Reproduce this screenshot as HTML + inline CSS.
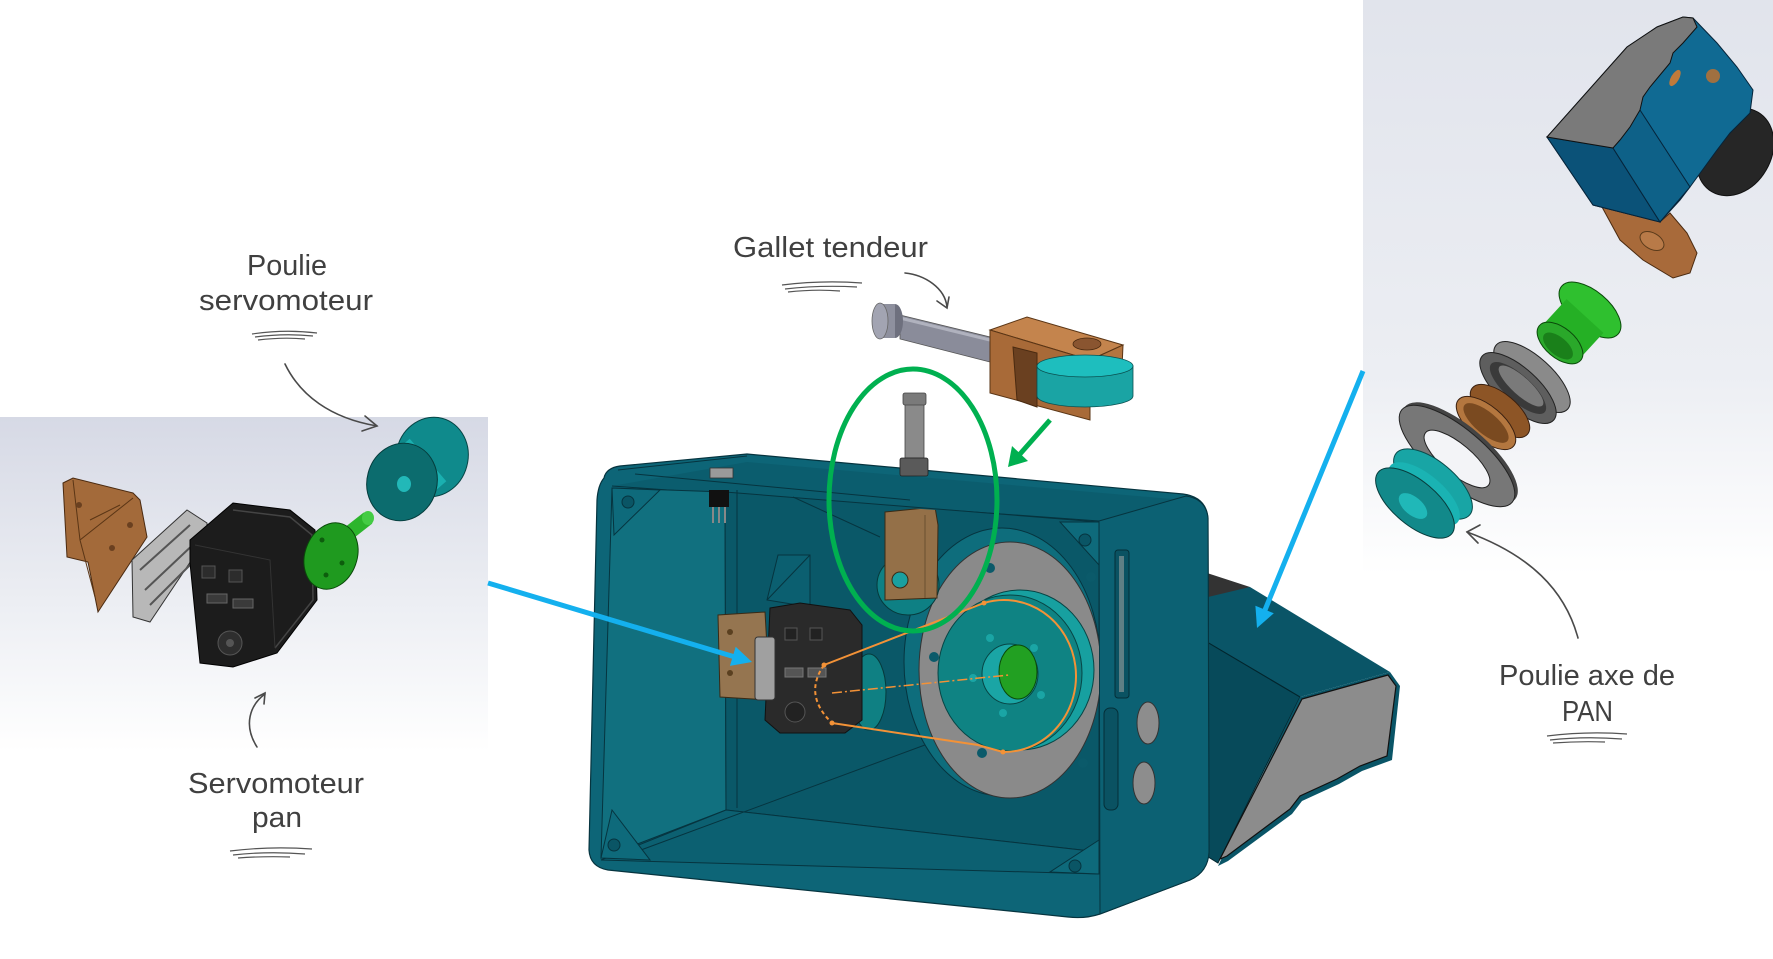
<!DOCTYPE html>
<html><head><meta charset="utf-8"><style>
html,body{margin:0;padding:0;background:#fff;overflow:hidden;}
svg{display:block;}
text{font-family:"Liberation Sans",sans-serif;fill:#404040;font-size:29px;}
</style></head><body>
<svg width="1773" height="959" viewBox="0 0 1773 959" xmlns="http://www.w3.org/2000/svg">
<defs>
<linearGradient id="gl" x1="0" y1="0" x2="0" y2="1">
<stop offset="0" stop-color="#d6d9e5"/><stop offset="0.55" stop-color="#eceef3"/><stop offset="1" stop-color="#ffffff"/>
</linearGradient>
<linearGradient id="gr" x1="0" y1="0" x2="0" y2="1">
<stop offset="0" stop-color="#e1e4ec"/><stop offset="0.65" stop-color="#eceef3"/><stop offset="1" stop-color="#ffffff"/>
</linearGradient>
<clipPath id="open"><path d="M612,488 L1099,521 L1099,874 L601,860 Z"/></clipPath>
</defs>
<rect width="1773" height="959" fill="#fff"/>
<!-- panels -->
<rect x="0" y="417" width="488" height="335" fill="url(#gl)"/>
<rect x="1363" y="0" width="410" height="575" fill="url(#gr)"/>

<!-- ============ LEFT EXPLODED SERVO ============ -->
<path d="M63,483 L73,478 L133,493 L140,500 L147,537 L98,612 L95,597 L88,562 L67,557 Z" fill="#a36a3a" stroke="#4a2a10" stroke-width="1"/>
<path d="M73,480 L80,540 L95,597 M80,540 L133,498 M90,520 L120,505" fill="none" stroke="#5a3515" stroke-width="1"/>
<circle cx="79" cy="505" r="3" fill="#6a4020"/><circle cx="112" cy="548" r="3" fill="#6a4020"/><circle cx="130" cy="525" r="3" fill="#6a4020"/>
<path d="M132,560 L187,510 L207,523 L207,537 L150,622 L133,617 Z" fill="#b8b8b8" stroke="#333" stroke-width="1"/>
<path d="M140,570 L190,525 M145,590 L198,540 M150,605 L200,555" stroke="#555" stroke-width="2" fill="none"/>
<path d="M190,540 L233,503 L290,510 L315,530 L317,600 L277,653 L233,667 L200,663 L190,563 Z" fill="#1c1c1c" stroke="#000" stroke-width="1"/>
<path d="M233,510 L290,517 L312,535 L313,600 L275,648" fill="none" stroke="#444" stroke-width="1.5"/>
<path d="M195,545 L270,560 L275,648" fill="none" stroke="#333" stroke-width="1"/>
<rect x="202" y="566" width="13" height="12" fill="#2c2c2c" stroke="#555"/>
<rect x="229" y="570" width="13" height="12" fill="#2c2c2c" stroke="#555"/>
<rect x="207" y="594" width="20" height="9" fill="#3a3a3a" stroke="#666"/>
<rect x="233" y="599" width="20" height="9" fill="#3a3a3a" stroke="#666"/>
<circle cx="230" cy="643" r="12" fill="#2e2e2e" stroke="#555"/><circle cx="230" cy="643" r="4" fill="#555"/>
<line x1="340" y1="540" x2="368" y2="518" stroke="#2cb52c" stroke-width="14"/>
<ellipse cx="368" cy="518" rx="6" ry="7" fill="#44cc44"/>
<ellipse cx="331" cy="556" rx="26" ry="34" transform="rotate(20 331 556)" fill="#1f9a1f" stroke="#0a4a0a"/>
<circle cx="322" cy="540" r="2.5" fill="#0d5d0d"/><circle cx="342" cy="563" r="2.5" fill="#0d5d0d"/><circle cx="326" cy="575" r="2.5" fill="#0d5d0d"/>
<ellipse cx="432" cy="457" rx="36" ry="40" transform="rotate(15 432 457)" fill="#0f8a8c" stroke="#064545"/>
<line x1="406" y1="479" x2="428" y2="460" stroke="#1ab0b0" stroke-width="56"/>
<ellipse cx="402" cy="482" rx="35" ry="39" transform="rotate(15 402 482)" fill="#0c6c6e" stroke="#053c3c"/>
<ellipse cx="404" cy="484" rx="7" ry="8" fill="#22b8b8"/>

<!-- ============ GALLET TENDEUR ============ -->
<path d="M900,315 L990,337 L990,362 L900,339 Z" fill="#8a8c9a" stroke="#555" stroke-width="0.8"/>
<path d="M900,318 L990,340" stroke="#b0b2be" stroke-width="3"/>
<ellipse cx="895" cy="321" rx="8" ry="17" fill="#6e707e"/>
<path d="M880,304 L895,304 L895,338 L880,338 Z" fill="#8e909e"/>
<ellipse cx="880" cy="321" rx="8" ry="18" fill="#a2a4b2" stroke="#666" stroke-width="0.8"/>
<path d="M990,330 L1027,317 L1123,345 L1090,360 Z" fill="#c4844d" stroke="#5a3515" stroke-width="1"/>
<path d="M990,330 L1090,360 L1090,420 L990,393 Z" fill="#a86a38" stroke="#5a3515" stroke-width="1"/>
<path d="M1090,360 L1123,345 L1122,368 L1092,372 Z" fill="#b47540" stroke="#5a3515" stroke-width="1"/>
<path d="M1013,347 L1037,353 L1037,407 L1017,400 Z" fill="#6a4020" stroke="#4a2a10"/>
<ellipse cx="1087" cy="344" rx="14" ry="6" fill="#8a5530" stroke="#4a2a10" stroke-width="0.8"/>
<path d="M1037,366 L1037,396 A48,11 0 0 0 1133,396 L1133,366 Z" fill="#1aa4a4" stroke="#0a5050" stroke-width="0.8"/>
<ellipse cx="1085" cy="366" rx="48" ry="11" fill="#1ebebe" stroke="#0a5050" stroke-width="0.8"/>

<!-- ============ RIGHT CAMERA HOUSING (behind box) ============ -->
<path d="M1207,573 L1250,587 L1250,600 L1207,600 Z" fill="#333"/>
<path d="M1208,597 L1250,587 L1390,672 L1300,697 L1207,642 Z" fill="#0a5567"/>
<path d="M1207,642 L1300,697 L1218,863 L1197,850 Z" fill="#074a5a" stroke="#03262e" stroke-width="1"/>
<path d="M1300,697 L1390,672 L1400,686 L1392,760 L1362,771 L1339,784 L1302,801 L1292,814 L1228,861 L1218,866 Z" fill="#0a5567"/>
<path d="M1302,699 L1388,675 L1396,686 L1387,756 L1360,766 L1337,779 L1300,796 L1290,809 L1227,856 L1220,859 Z" fill="#8c8c8c" stroke="#111" stroke-width="1.2"/>
<path d="M1300,697 L1207,642" stroke="#03262e" stroke-width="1"/>

<!-- ============ MAIN BOX ============ -->
<path d="M604,478 Q606,468 620,466 L747,454 L1183,494 Q1206,497 1208,518 L1209,852 Q1208,872 1190,880 L1100,914 Q1085,919 1068,917 L608,870 Q590,867 589,850 L597,500 Q598,485 604,478 Z" fill="#0d6577" stroke="#06343f" stroke-width="1.2"/>
<path d="M612,486 L747,462 L1183,500 L1099,521 Z" fill="#0b5d6e"/>
<path d="M618,470 L747,456 M612,486 L1099,521 M635,474 L910,500" fill="none" stroke="#06343f" stroke-width="1"/>
<path d="M612,488 L725,492 L726,810 L601,858 Z" fill="#11707f" stroke="#06343f" stroke-width="1"/>
<path d="M725,492 L1099,522 L1099,852 L726,810 Z" fill="#0a5868" stroke="#06343f" stroke-width="1"/>
<path d="M726,810 L1099,852 L1099,874 L601,860 Z" fill="#0c6071" stroke="#06343f" stroke-width="1"/>
<path d="M622,857 L933,742 M737,490 L737,808 M793,497 L880,537" stroke="#06343f" stroke-width="1" fill="none"/>
<path d="M1099,521 L1186,496 Q1206,499 1208,518 L1209,852 Q1208,872 1190,880 L1100,914 Z" fill="#0c6173" stroke="#06343f" stroke-width="1"/>
<path d="M612,488 L660,490 L614,535 Z" fill="#0e6a7b" stroke="#06343f"/><circle cx="628" cy="502" r="6" fill="#0a5565" stroke="#06343f"/>
<path d="M601,858 L612,810 L650,860 Z" fill="#0e6a7b" stroke="#06343f"/><circle cx="614" cy="845" r="6" fill="#0a5565" stroke="#06343f"/>
<path d="M1099,522 L1060,522 L1099,565 Z" fill="#0e6a7b" stroke="#06343f"/><circle cx="1085" cy="540" r="6" fill="#0a5565" stroke="#06343f"/>
<path d="M1099,874 L1050,872 L1099,840 Z" fill="#0e6a7b" stroke="#06343f"/><circle cx="1075" cy="866" r="6" fill="#0a5565" stroke="#06343f"/>
<rect x="1115" y="550" width="14" height="148" rx="3" fill="#0a5262" stroke="#042f38"/>
<rect x="1119" y="556" width="5" height="136" fill="#5f7f85"/>
<rect x="1104" y="708" width="14" height="102" rx="6" fill="#0a5262" stroke="#042f38"/>
<ellipse cx="1148" cy="723" rx="11" ry="21" fill="#8d8d8d" stroke="#333"/>
<ellipse cx="1144" cy="783" rx="11" ry="21" fill="#8d8d8d" stroke="#333"/>
<rect x="710" y="468" width="23" height="10" fill="#9a9a9a" stroke="#333" stroke-width="0.8"/>
<rect x="709" y="490" width="20" height="17" fill="#111"/>
<path d="M713,507 L713,523 M719,507 L719,523 M725,507 L725,523" stroke="#888" stroke-width="2"/>
<rect x="905" y="398" width="19" height="60" fill="#8a8a8a" stroke="#444" stroke-width="0.8"/>
<rect x="903" y="393" width="23" height="12" rx="2" fill="#7a7a7a" stroke="#444" stroke-width="0.8"/>
<rect x="900" y="458" width="28" height="18" rx="2" fill="#5a5a5a" stroke="#222" stroke-width="0.8"/>

<g clip-path="url(#open)">
<path d="M778,555 L810,555 L810,607 L767,600 Z" fill="#0b5f70" stroke="#06343f"/>
<path d="M767,600 L810,555" stroke="#06343f" stroke-width="1"/>
<ellipse cx="1002" cy="662" rx="98" ry="134" fill="#0e6d7c" stroke="#06343f"/>
<ellipse cx="1010" cy="670" rx="91" ry="128" fill="#8a8a8a" stroke="#333" stroke-width="1"/>
<circle cx="990" cy="568" r="5" fill="#0b5a6a"/><circle cx="1091" cy="577" r="5" fill="#0b5a6a"/>
<circle cx="934" cy="657" r="5" fill="#0b5a6a"/><circle cx="982" cy="753" r="5" fill="#0b5a6a"/><circle cx="1083" cy="763" r="5" fill="#0b5a6a"/>
<ellipse cx="1020" cy="670" rx="74" ry="80" fill="#17a0a0" stroke="#074545"/>
<ellipse cx="1010" cy="673" rx="72" ry="78" fill="#0f8383" stroke="#074545"/>
<ellipse cx="1010" cy="674" rx="28" ry="30" fill="#1aa5a5" stroke="#074545"/>
<ellipse cx="1018" cy="672" rx="19" ry="27" fill="#22a022" stroke="#0a4a0a"/>
<circle cx="990" cy="638" r="4" fill="#1aa5a5"/><circle cx="1034" cy="648" r="4" fill="#1aa5a5"/>
<circle cx="973" cy="678" r="4" fill="#1aa5a5"/><circle cx="1041" cy="695" r="4" fill="#1aa5a5"/><circle cx="1003" cy="713" r="4" fill="#1aa5a5"/>
<ellipse cx="908" cy="585" rx="31" ry="30" fill="#0e8084" stroke="#063a3c"/>
<path d="M885,512 L935,507 L938,525 L937,598 L885,600 Z" fill="#947048" stroke="#3a2a15"/>
<path d="M925,515 L925,598" stroke="#6a5030" stroke-width="1"/>
<circle cx="900" cy="580" r="8" fill="#1aa0a0" stroke="#3a2a15"/>
<ellipse cx="869" cy="692" rx="17" ry="38" fill="#0f8083" stroke="#063a3c"/>
<path d="M718,615 L765,612 L770,700 L720,697 Z" fill="#957550" stroke="#3a2a15"/>
<circle cx="730" cy="632" r="3" fill="#5a4020"/><circle cx="730" cy="673" r="3" fill="#5a4020"/>
<path d="M770,608 L800,603 L850,610 L862,625 L862,720 L845,733 L780,733 L765,720 Z" fill="#2a2a2a" stroke="#111"/>
<rect x="755" y="637" width="20" height="63" rx="3" fill="#a0a0a0" stroke="#333"/>
<rect x="785" y="628" width="12" height="12" fill="#222" stroke="#555"/><rect x="810" y="628" width="12" height="12" fill="#222" stroke="#555"/>
<rect x="785" y="668" width="18" height="9" fill="#555" stroke="#777"/><rect x="808" y="668" width="18" height="9" fill="#555" stroke="#777"/>
<circle cx="795" cy="712" r="10" fill="#222" stroke="#555"/>
<g stroke="#f39237" stroke-width="2" fill="none">
<path d="M824,665 L984,603"/>
<path d="M984,603 A72,76 0 1 1 1003,752"/>
<path d="M832,723 L978,745 L1003,752"/>
<path d="M824,665 Q803,695 832,723" stroke-dasharray="4 3"/>
<path d="M832,693 L1009,675" stroke-dasharray="10 3 2 3" stroke-width="1.5"/>
</g>
<g fill="#f39237"><circle cx="824" cy="665" r="2.5"/><circle cx="984" cy="603" r="2.5"/><circle cx="832" cy="723" r="2.5"/><circle cx="1003" cy="752" r="2.5"/></g>
</g>

<!-- ============ RIGHT PANEL PARTS ============ -->
<path d="M1602,207 L1660,222 L1670,213 L1687,233 L1697,253 L1690,273 L1673,278 L1643,260 L1620,240 Z" fill="#a86a3a" stroke="#4a2a10"/>
<ellipse cx="1652" cy="241" rx="13" ry="8" transform="rotate(30 1652 241)" fill="#b87a48" stroke="#5a3a1a"/>
<ellipse cx="1735" cy="152" rx="36" ry="46" transform="rotate(30 1735 152)" fill="#262626" stroke="#111"/>
<path d="M1693,18 L1717,43 L1737,67 L1753,90 L1750,113 L1730,133 L1717,150 L1690,187 L1680,200 L1660,222 L1593,205 L1547,137 L1627,47 L1657,27 L1683,17 Z" fill="#106a93" stroke="#06243a" stroke-width="1"/>
<path d="M1547,137 L1613,148 L1660,222 L1593,205 Z" fill="#0b5278" stroke="#06243a"/>
<path d="M1613,148 L1640,110 L1690,187 L1660,222 Z" fill="#0e6188" stroke="#06243a"/>
<path d="M1547,137 L1627,47 L1657,27 L1683,17 L1693,18 L1697,27 L1683,43 L1673,53 L1670,63 L1650,87 L1643,97 L1640,110 L1630,127 L1620,140 L1613,148 Z" fill="#7a7a7a" stroke="#111" stroke-width="1"/>
<ellipse cx="1675" cy="78" rx="4" ry="9" transform="rotate(30 1675 78)" fill="#c07a3a"/>
<circle cx="1713" cy="76" r="7" fill="#a07040"/>
<!-- green bushing -->
<ellipse cx="1590" cy="310" rx="37" ry="19" transform="rotate(40 1590 310)" fill="#2fc02f" stroke="#0a4a0a"/>
<line x1="1562" y1="341" x2="1585" y2="316" stroke="#25b025" stroke-width="50"/>
<ellipse cx="1560" cy="343" rx="27" ry="15" transform="rotate(40 1560 343)" fill="#2aa82a" stroke="#0a4a0a"/>
<ellipse cx="1558" cy="346" rx="18" ry="9" transform="rotate(40 1558 346)" fill="#1a801a"/>
<!-- bearing -->
<ellipse cx="1532" cy="377" rx="48" ry="20" transform="rotate(42 1532 377)" fill="#8a8a8a" stroke="#222"/>
<ellipse cx="1518" cy="388" rx="48" ry="20" transform="rotate(42 1518 388)" fill="#5e5e5e" stroke="#222"/>
<ellipse cx="1518" cy="388" rx="36" ry="13" transform="rotate(42 1518 388)" fill="#3a3a3a"/>
<ellipse cx="1521" cy="386" rx="29" ry="9" transform="rotate(42 1521 386)" fill="#7a7a7a"/>
<!-- brown ring -->
<ellipse cx="1500" cy="411" rx="36" ry="17" transform="rotate(40 1500 411)" fill="#8d5526" stroke="#3a2010"/>
<ellipse cx="1486" cy="423" rx="36" ry="17" transform="rotate(40 1486 423)" fill="#b4773f" stroke="#3a2010"/>
<ellipse cx="1486" cy="423" rx="28" ry="11" transform="rotate(40 1486 423)" fill="#7a4a20"/>
<!-- washer -->
<ellipse cx="1460" cy="453" rx="72" ry="27" transform="rotate(40 1460 453)" fill="#444"/>
<ellipse cx="1457" cy="456" rx="72" ry="27" transform="rotate(40 1457 456)" fill="#777" stroke="#222"/>
<ellipse cx="1457" cy="459" rx="41" ry="15" transform="rotate(40 1457 459)" fill="#f3f4f7" stroke="#222"/>
<!-- teal pulley -->
<ellipse cx="1433" cy="484" rx="48" ry="22" transform="rotate(40 1433 484)" fill="#18a5a5" stroke="#0a4a4a"/>
<ellipse cx="1424" cy="494" rx="44" ry="19" transform="rotate(40 1424 494)" fill="#1ab3b3"/>
<ellipse cx="1415" cy="503" rx="48" ry="22" transform="rotate(40 1415 503)" fill="#12898a" stroke="#083c3c"/>
<ellipse cx="1413" cy="506" rx="17" ry="9" transform="rotate(40 1413 506)" fill="#20b8b8"/>

<!-- ============ ARROWS ============ -->
<g stroke="#14b0ee" stroke-width="5" fill="none">
<line x1="488" y1="583" x2="735" y2="657"/>
<line x1="1363" y1="371" x2="1265" y2="610"/>
</g>
<polygon points="752,662 729.9,665.9 735.7,646.7" fill="#14b0ee"/>
<polygon points="1257,628 1273.8,613.3 1255.4,605.7" fill="#14b0ee"/>
<ellipse cx="913" cy="500" rx="84" ry="131" fill="none" stroke="#00b050" stroke-width="5"/>
<line x1="1050" y1="420" x2="1020" y2="454" stroke="#00b050" stroke-width="5"/>
<polygon points="1008,467 1028,461 1012,446" fill="#00b050"/>

<g stroke="#4a4a4a" stroke-width="1.6" fill="none" stroke-linecap="round">
<path d="M285,364 C300,395 330,418 377,426"/><path d="M365,416 L377,426 L362,431"/>
<path d="M905,273 C925,275 945,288 947,307"/><path d="M937,301 L947,308 L949,297"/>
<path d="M257,747 C243,725 250,705 265,694"/><path d="M255,698 L265,693 L264,704"/>
<path d="M1578,638 C1565,590 1530,555 1467,532"/><path d="M1480,525 L1467,532 L1478,543"/>
</g>
<g stroke="#555" stroke-width="1.2" fill="none">
<path d="M252,334 Q285,329 317,333"/><path d="M255,337 Q285,333 313,336"/><path d="M258,340 Q283,337 305,339"/>
<path d="M782,285 Q822,280 862,283"/><path d="M785,289 Q820,285 857,287"/><path d="M788,292 Q815,289 840,291"/>
<path d="M230,851 Q270,846 312,849"/><path d="M233,855 Q268,851 305,854"/><path d="M238,858 Q265,856 290,857"/>
<path d="M1547,736 Q1587,731 1627,734"/><path d="M1550,740 Q1585,736 1622,739"/><path d="M1553,743 Q1580,741 1605,742"/>
</g>

<text x="247" y="275" textLength="80" lengthAdjust="spacingAndGlyphs">Poulie</text>
<text x="199" y="310" textLength="174" lengthAdjust="spacingAndGlyphs">servomoteur</text>
<text x="733" y="257" textLength="195" lengthAdjust="spacingAndGlyphs">Gallet tendeur</text>
<text x="188" y="793" textLength="176" lengthAdjust="spacingAndGlyphs">Servomoteur</text>
<text x="252" y="827" textLength="50" lengthAdjust="spacingAndGlyphs">pan</text>
<text x="1499" y="685" textLength="176" lengthAdjust="spacingAndGlyphs">Poulie axe de</text>
<text x="1562" y="721" textLength="51" lengthAdjust="spacingAndGlyphs">PAN</text>
</svg>
</body></html>
